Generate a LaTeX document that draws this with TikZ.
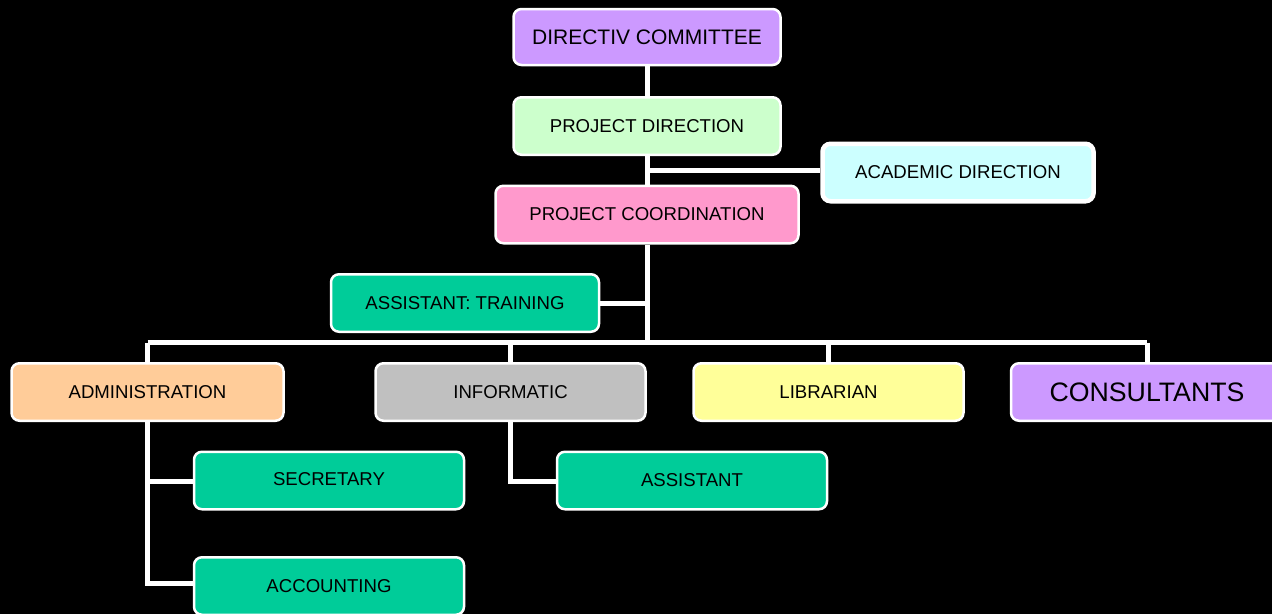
\documentclass[tikz,border=0pt]{standalone}
\usepackage{fontspec}
\setmainfont{Liberation Sans}
\begin{document}
\begin{tikzpicture}[x=1pt,y=-1pt,
  box/.style={draw=white,line width=2.5pt,rounded corners=8pt,
    minimum width=268pt,minimum height=57.5pt,inner sep=0pt,
    font=\fontsize{18.6}{20}\selectfont,text=black},
  link/.style={draw=white,line width=5pt}]
\useasboundingbox[fill=black] (0,0) rectangle (1272,614);
\node[box,fill={rgb,255:red,204;green,153;blue,255},minimum width=267pt,minimum height=56pt,font=\fontsize{21}{23}\selectfont] (dc) at (647,37) {DIRECTIV COMMITTEE};
\node[box,fill={rgb,255:red,204;green,255;blue,204},minimum width=267pt] (pd) at (647,126) {PROJECT DIRECTION};
\node[box,fill={rgb,255:red,204;green,255;blue,255},line width=4.5pt,minimum width=271pt] (ad) at (958,172.5) {ACADEMIC DIRECTION};
\node[box,fill={rgb,255:red,255;green,153;blue,204},minimum width=303pt] (pc) at (647,214.5) {PROJECT COORDINATION};
\node[box,fill={rgb,255:red,0;green,204;blue,153}] (at) at (465,303) {ASSISTANT: TRAINING};
\node[box,fill={rgb,255:red,255;green,204;blue,153},minimum width=272pt] (adm) at (147.5,392) {ADMINISTRATION};
\node[box,fill={rgb,255:red,192;green,192;blue,192},minimum width=270pt] (inf) at (510.5,392) {INFORMATIC};
\node[box,fill={rgb,255:red,255;green,255;blue,153},minimum width=270pt] (lib) at (828.5,392) {LIBRARIAN};
\node[box,fill={rgb,255:red,204;green,153;blue,255},minimum width=272pt,font=\fontsize{26.7}{28}\selectfont] (con) at (1147,392) {CONSULTANTS};
\node[box,fill={rgb,255:red,0;green,204;blue,153},minimum width=270pt] (sec) at (329,480.5) {\raisebox{4pt}{SECRETARY}};
\node[box,fill={rgb,255:red,0;green,204;blue,153},minimum width=270pt] (ast) at (692,480.5) {ASSISTANT};
\node[box,fill={rgb,255:red,0;green,204;blue,153},minimum width=270pt] (acc) at (329,586) {ACCOUNTING};
% connectors
\coordinate (bus) at (647,342.5);
\draw[link] (dc.south) -- (pd.north);
\draw[link] (pd.south) -- (pc.north);
\draw[link] (647,170) -- (ad.west |- 0,170);
\draw[link] (pc.south) -- (bus);
\draw[link] (at.east) -- (647,303);
\draw[link] (adm.north |- bus) -- (con.north |- bus);
\draw[link] (adm.north |- bus) -- (adm.north);
\draw[link] (inf.north |- bus) -- (inf.north);
\draw[link] (lib.north |- bus) -- (lib.north);
\draw[link] (con.north |- bus) -- (con.north);
\draw[link] (adm.south) -- (147.5,583) -- (acc.west |- 0,583);
\draw[link] (147.5,481) -- (sec.west |- 0,481);
\draw[link] (inf.south) -- (510.5,481) -- (ast.west |- 0,481);
\end{tikzpicture}
\end{document}
